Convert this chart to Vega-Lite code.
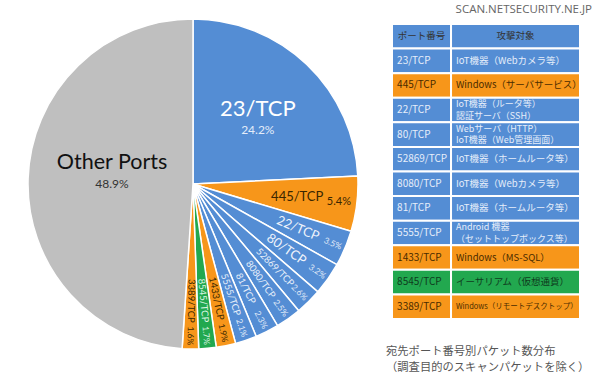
{
  "$schema": "https://vega.github.io/schema/vega-lite/v6.json",
  "padding": {"top": 3, "left": 0, "right": 0, "bottom": 0},
  "background": "white",
  "spacing": 0,
  "config": {"view": {"stroke": null}},
  "title": {"text": "SCAN.NETSECURITY.NE.JP", "anchor": "end", "fontSize": 11.5, "fontWeight": "normal", "font": "Open Sans", "color": "#666666", "dx": -8, "offset": 1},
  "datasets": {
    "ports": [
      {"idx": 1, "port": "23/TCP", "share": 0.242, "kind": "IoT"},
      {"idx": 2, "port": "445/TCP", "share": 0.054, "kind": "Windows"},
      {"idx": 3, "port": "22/TCP", "share": 0.035, "kind": "IoT"},
      {"idx": 4, "port": "80/TCP", "share": 0.032, "kind": "IoT"},
      {"idx": 5, "port": "52869/TCP", "share": 0.026, "kind": "IoT"},
      {"idx": 6, "port": "8080/TCP", "share": 0.025, "kind": "IoT"},
      {"idx": 7, "port": "81/TCP", "share": 0.023, "kind": "IoT"},
      {"idx": 8, "port": "5555/TCP", "share": 0.021, "kind": "IoT"},
      {"idx": 9, "port": "1433/TCP", "share": 0.019, "kind": "Windows"},
      {"idx": 10, "port": "8545/TCP", "share": 0.017, "kind": "Crypto"},
      {"idx": 11, "port": "3389/TCP", "share": 0.016, "kind": "Windows"},
      {"idx": 12, "port": "Other Ports", "share": 0.489, "kind": "Other"}
    ],
    "table": [
      {"port": "ポート番号", "target": "攻撃対象", "kind": "header", "lines": 1},
      {"port": "23/TCP", "target": "IoT機器（Webカメラ等）", "kind": "IoT", "lines": 1},
      {"port": "445/TCP", "target": "Windows（サーバサービス）", "kind": "Windows", "lines": 1},
      {"port": "22/TCP", "target": "IoT機器（ルータ等）\n認証サーバ（SSH）", "kind": "IoT", "lines": 2},
      {"port": "80/TCP", "target": "Webサーバ（HTTP）\nIoT機器（Web管理画面）", "kind": "IoT", "lines": 2},
      {"port": "52869/TCP", "target": "IoT機器（ホームルータ等）", "kind": "IoT", "lines": 1},
      {"port": "8080/TCP", "target": "IoT機器（Webカメラ等）", "kind": "IoT", "lines": 1},
      {"port": "81/TCP", "target": "IoT機器（ホームルータ等）", "kind": "IoT", "lines": 1},
      {"port": "5555/TCP", "target": "Android 機器\n（セットトップボックス等）", "kind": "IoT", "lines": 2},
      {"port": "1433/TCP", "target": "Windows（MS-SQL）", "kind": "Windows", "lines": 1},
      {"port": "8545/TCP", "target": "イーサリアム（仮想通貨）", "kind": "Crypto", "lines": 1},
      {"port": "3389/TCP", "target": "Windows（リモートデスクトップ）", "kind": "Windows", "lines": 1}
    ]
  },
  "hconcat": [
    {
      "width": 386,
      "height": 334,
      "data": {"name": "ports"},
      "transform": [
        {"window": [{"op": "sum", "field": "share", "as": "cum"}], "sort": [{"field": "idx"}], "frame": [null, 0]},
        {"calculate": "datum.cum - datum.share / 2", "as": "mid"},
        {"calculate": "datum.mid * 360 - 90", "as": "ang"}
      ],
      "layer": [
        {
          "mark": {"type": "arc", "outerRadius": 165, "stroke": "white", "strokeWidth": 1.5},
          "encoding": {
            "theta": {"field": "share", "type": "quantitative", "stack": true},
            "order": {"field": "idx", "type": "quantitative"},
            "color": {"field": "kind", "type": "nominal", "legend": null,
              "scale": {"domain": ["IoT", "Windows", "Crypto", "Other"], "range": ["#548DD4", "#F7961A", "#22A84F", "#BFBFBF"]}}
          }
        },
        {
          "transform": [{"filter": "datum.idx == 1"}],
          "mark": {"type": "text", "radius": 94, "dy": -7, "fontSize": 22, "font": "Lato", "color": "white"},
          "encoding": {"theta": {"field": "mid", "type": "quantitative", "stack": null}, "text": {"field": "port"}}
        },
        {
          "transform": [{"filter": "datum.idx == 1"}],
          "mark": {"type": "text", "radius": 94, "dy": 14, "fontSize": 12, "font": "Lato", "color": "#E3ECF9"},
          "encoding": {"theta": {"field": "mid", "type": "quantitative", "stack": null}, "text": {"field": "share", "format": ".1%"}}
        },
        {
          "transform": [{"filter": "datum.idx == 12"}],
          "mark": {"type": "text", "radius": 81, "dy": -18, "fontSize": 21.5, "font": "Lato", "color": "#111111"},
          "encoding": {"theta": {"field": "mid", "type": "quantitative", "stack": null}, "text": {"field": "port"}}
        },
        {
          "transform": [{"filter": "datum.idx == 12"}],
          "mark": {"type": "text", "radius": 81, "dy": 3, "fontSize": 12, "font": "Lato", "color": "#333333"},
          "encoding": {"theta": {"field": "mid", "type": "quantitative", "stack": null}, "text": {"field": "share", "format": ".1%"}}
        },
        {
          "transform": [{"filter": "datum.idx == 2"}],
          "mark": {"type": "text", "radius": 105, "fontSize": 13, "font": "Lato", "color": "#3A2600"},
          "encoding": {"theta": {"field": "mid", "type": "quantitative", "stack": null}, "text": {"field": "port"}}
        },
        {
          "transform": [{"filter": "datum.idx == 2"}],
          "mark": {"type": "text", "radius": 147, "fontSize": 11, "font": "Lato", "color": "#3A2600"},
          "encoding": {"theta": {"field": "mid", "type": "quantitative", "stack": null}, "text": {"field": "share", "format": ".1%"}}
        },
        {
          "transform": [{"filter": "datum.idx == 3 || datum.idx == 4"}],
          "mark": {"type": "text", "radius": 114, "fontSize": 13, "font": "Lato", "color": "#EEF3FB"},
          "encoding": {"theta": {"field": "mid", "type": "quantitative", "stack": null}, "angle": {"field": "ang", "type": "quantitative", "scale": null}, "text": {"field": "port"}}
        },
        {
          "transform": [{"filter": "datum.idx >= 5 && datum.idx <= 11"}],
          "mark": {"type": "text", "radius": 117, "fontSize": 9.5, "font": "Lato"},
          "encoding": {"theta": {"field": "mid", "type": "quantitative", "stack": null}, "angle": {"field": "ang", "type": "quantitative", "scale": null}, "text": {"field": "port"},
            "color": {"condition": [{"test": "datum.kind === 'Windows'", "value": "#3A2600"}, {"test": "datum.kind === 'Crypto'", "value": "#DDF5E3"}], "value": "#E8F0FB"}}
        },
        {
          "transform": [{"filter": "datum.idx >= 3 && datum.idx <= 11"}],
          "mark": {"type": "text", "radius": 152, "fontSize": 8.5, "font": "Lato"},
          "encoding": {"theta": {"field": "mid", "type": "quantitative", "stack": null}, "angle": {"field": "ang", "type": "quantitative", "scale": null}, "text": {"field": "share", "format": ".1%"},
            "color": {"condition": [{"test": "datum.kind === 'Windows'", "value": "#3A2600"}, {"test": "datum.kind === 'Crypto'", "value": "#DDF5E3"}], "value": "#E0EAF8"}}
        }
      ]
    },
    {
      "width": 214,
      "height": 302,
      "data": {"name": "table"},
      "title": {"text": ["宛先ポート番号別パケット数分布", "（調査目的のスキャンパケットを除く）"], "orient": "bottom", "anchor": "start", "fontSize": 11.3, "fontWeight": "normal", "font": "Noto Sans CJK JP", "color": "#555555", "offset": 26, "lineHeight": 16},
      "encoding": {
        "y": {"field": "port", "type": "nominal", "sort": null, "axis": null, "scale": {"range": [7, 302], "padding": 0}}
      },
      "layer": [
        {
          "mark": {"type": "rect", "stroke": "white", "strokeWidth": 2},
          "encoding": {
            "x": {"datum": 0, "type": "quantitative", "axis": null, "scale": {"domain": [0, 1], "range": [6, 194]}},
            "x2": {"datum": 0.314},
            "color": {"field": "kind", "type": "nominal", "legend": null,
              "scale": {"domain": ["header", "IoT", "Windows", "Crypto"], "range": ["#C9DAF0", "#4F8AD6", "#FB9A0A", "#22B04E"]}}
          }
        },
        {
          "mark": {"type": "rect", "stroke": "white", "strokeWidth": 2},
          "encoding": {
            "x": {"datum": 0.314, "type": "quantitative"},
            "x2": {"datum": 1},
            "color": {"field": "kind", "type": "nominal", "legend": null}
          }
        },
        {
          "transform": [{"filter": "datum.kind === 'header'"}],
          "mark": {"type": "text", "fontSize": 9.5, "font": "Noto Sans CJK JP", "color": "#333333"},
          "encoding": {"x": {"datum": 0.157, "type": "quantitative"}, "text": {"field": "port"}}
        },
        {
          "transform": [{"filter": "datum.kind === 'header'"}],
          "mark": {"type": "text", "fontSize": 9.5, "font": "Noto Sans CJK JP", "color": "#333333"},
          "encoding": {"x": {"datum": 0.657, "type": "quantitative"}, "text": {"field": "target"}}
        },
        {
          "transform": [{"filter": "datum.kind !== 'header'"}],
          "mark": {"type": "text", "align": "left", "fontSize": 10, "font": "Noto Sans CJK JP"},
          "encoding": {"x": {"datum": 0.027, "type": "quantitative"}, "text": {"field": "port"},
            "color": {"condition": [{"test": "datum.kind === 'Windows'", "value": "#4A2C00"}, {"test": "datum.kind === 'Crypto'", "value": "#0F3D1E"}], "value": "#E6EEFA"}}
        },
        {
          "transform": [{"filter": "datum.kind !== 'header' && datum.port !== '3389/TCP' && datum.lines == 1"}],
          "mark": {"type": "text", "align": "left", "fontSize": 9.5, "font": "Noto Sans CJK JP"},
          "encoding": {"x": {"datum": 0.34, "type": "quantitative"}, "text": {"field": "target"},
            "color": {"condition": [{"test": "datum.kind === 'Windows'", "value": "#4A2C00"}, {"test": "datum.kind === 'Crypto'", "value": "#0F3D1E"}], "value": "#E6EEFA"}}
        },
        {
          "transform": [{"filter": "datum.lines == 2"}],
          "mark": {"type": "text", "align": "left", "fontSize": 9, "font": "Noto Sans CJK JP", "lineBreak": "\n", "lineHeight": 11.5, "dy": -5.75, "color": "#E6EEFA"},
          "encoding": {"x": {"datum": 0.34, "type": "quantitative"}, "text": {"field": "target"}}
        },
        {
          "transform": [{"filter": "datum.port === '3389/TCP'"}],
          "mark": {"type": "text", "align": "left", "fontSize": 7.5, "font": "Noto Sans CJK JP", "color": "#4A2C00"},
          "encoding": {"x": {"datum": 0.34, "type": "quantitative"}, "text": {"field": "target"}}
        }
      ]
    }
  ]
}
